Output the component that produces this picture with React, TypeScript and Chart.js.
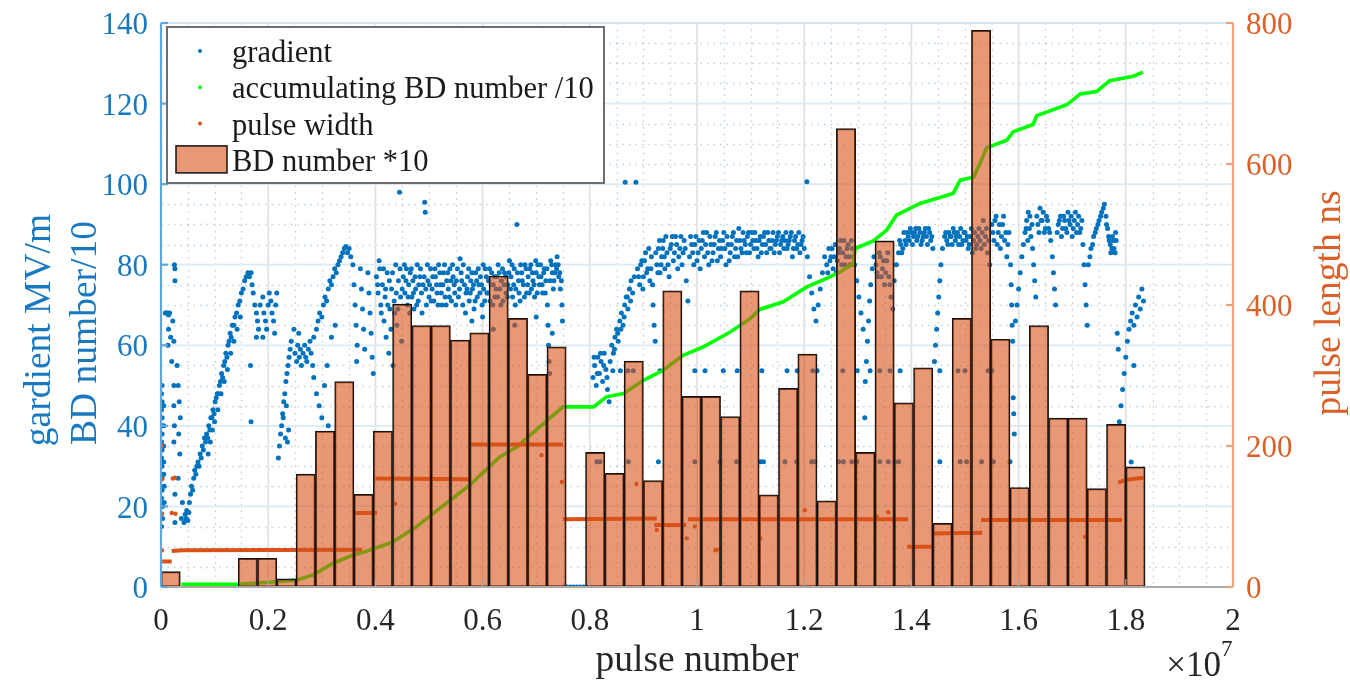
import React, { useEffect, useRef } from 'react';
import { Chart, registerables } from 'chart.js';

Chart.register(...registerables);

const FONT = '"Liberation Serif", "Times New Roman", serif';
const BLUE = '#0072BD';
const ORANGE = '#D95319';
const GREEN = '#00FF00';
const BAR_FILL = 'rgba(217,83,25,0.6)';
const LEFT_TEXT = '#1878c0';
const RIGHT_TEXT = '#db5f28';

// ---- axis ticks ----
const xTickStep = 0.2; // x10^7 pulses
const yTickStep = 20; // MV/m
const y1TickStep = 200; // ns

// ---- histogram: BD number *10 per bin (bin width 0.036e7 pulses) ----
const BIN_WIDTH = 0.036;
const bdNumberX10 = [
  3.8, 0, 0, 0, 7.1, 7.1, 2.0, 28.0, 38.7, 51.0, 23.0, 38.7, 70.2, 64.9, 64.9, 61.3, 63.1,
  77.2, 66.7, 52.8, 59.6, 0, 33.4, 28.2, 56.1, 26.4, 73.5, 47.3, 47.3, 42.3, 73.5, 22.9,
  49.3, 57.8, 21.4, 113.8, 33.4, 85.9, 45.7, 54.4, 15.8, 66.7, 138.2, 61.5, 24.7, 64.9,
  41.9, 41.9, 24.4, 40.4, 29.8,
];

// ---- accumulating BD number /10 ----
const accumBD: [number, number][] = [
  [0.038, 0.7], [0.144, 0.7], [0.216, 1.3], [0.253, 1.7], [0.284, 3.0], [0.321, 5.9],
  [0.358, 7.9], [0.39, 9.2], [0.433, 11.2], [0.477, 15.0], [0.52, 19.5], [0.576, 25.3],
  [0.632, 32.3], [0.664, 34.8], [0.7, 39.0], [0.75, 44.7], [0.807, 44.7], [0.831, 47.2],
  [0.863, 48.0], [0.9, 51.3], [0.937, 53.8], [0.974, 57.5], [1.012, 59.6], [1.062, 63.3],
  [1.099, 66.6], [1.117, 68.9], [1.161, 70.8], [1.205, 74.5], [1.242, 76.6], [1.267, 78.2],
  [1.292, 80.3], [1.295, 84.0], [1.329, 85.9], [1.354, 88.6], [1.372, 92.3], [1.416, 95.2],
  [1.478, 97.7], [1.491, 101.0], [1.516, 101.7], [1.528, 105.1], [1.54, 109.0],
  [1.578, 110.9], [1.59, 113.0], [1.627, 114.8], [1.634, 117.0], [1.69, 119.7],
  [1.715, 122.4], [1.746, 123.0], [1.77, 125.7], [1.814, 126.8], [1.832, 127.8],
];

// ---- pulse width (ns) : flat runs ----
const pulseRuns: [number, number][][] = [
  [[0.002, 36], [0.02, 36]],
  [[0.02, 51], [0.04, 52], [0.375, 53]],
  [[0.362, 105], [0.403, 105]],
  [[0.4, 154], [0.577, 153]],
  [[0.573, 202], [0.75, 202]],
  [[0.75, 96], [0.925, 97]],
  [[0.92, 88], [0.98, 88]],
  [[0.983, 96], [1.394, 96]],
  [[1.392, 57], [1.44, 57]],
  [[1.44, 76], [1.532, 77]],
  [[1.53, 95], [1.793, 95]],
  [[1.786, 148], [1.8, 152], [1.833, 155]],
];
const pulseDots: [number, number][] = [
  [0.002, 201], [0.002, 153], [0.022, 154], [0.026, 155], [0.002, 104], [0.02, 105],
  [0.027, 104], [0.002, 52], [0.437, 118], [0.71, 187], [0.748, 149], [0.887, 146],
  [0.925, 81], [0.981, 69], [0.996, 86], [1.034, 52], [1.037, 53], [1.118, 69],
  [1.201, 109], [1.335, 100], [1.357, 106], [1.724, 71],
];

// ---- gradient (MV/m) ----
const gradStart: [number, number][] = [
  [0.002, 50], [0.002, 46], [0.002, 42], [0.002, 38], [0.002, 34], [0.002, 30], [0.002, 27],
  [0.002, 24], [0.003, 20], [0.003, 17], [0.005, 45], [0.005, 40], [0.005, 35], [0.005, 31],
  [0.005, 28], [0.006, 25], [0.006, 21], [0.008, 68], [0.01, 68], [0.012, 68], [0.014, 67.5],
  [0.016, 68], [0.014, 64], [0.013, 60], [0.018, 62], [0.02, 56], [0.022, 66], [0.024, 61],
  [0.025, 80], [0.026, 79], [0.026, 76], [0.024, 50], [0.024, 45], [0.025, 40], [0.024, 36],
  [0.026, 23], [0.026, 16], [0.03, 55], [0.032, 50], [0.034, 46], [0.036, 42], [0.033, 38],
  [0.035, 33], [0.032, 27], [0.038, 17], [0.04, 21], [0.001, 48], [0.001, 44], [0.001, 40],
  [0.001, 36], [0.001, 32], [0.001, 28], [0.001, 22], [0.001, 15],
];
const gradRamp1: [number, number][] = [
  [0.043, 16], [0.045, 18], [0.047, 17], [0.048, 19], [0.05, 16.5], [0.052, 18.5], [0.053, 21],
  [0.055, 23], [0.057, 25], [0.059, 24], [0.061, 27], [0.063, 29], [0.065, 28], [0.067, 30],
  [0.069, 31], [0.071, 30], [0.073, 33], [0.075, 32], [0.077, 35], [0.079, 34], [0.081, 37],
  [0.083, 36], [0.085, 38], [0.087, 37], [0.089, 40], [0.091, 39], [0.093, 42], [0.095, 42],
  [0.097, 44], [0.099, 43], [0.101, 46], [0.103, 47], [0.105, 48], [0.107, 48], [0.109, 50],
  [0.111, 51], [0.113, 53], [0.115, 52], [0.117, 55], [0.119, 56], [0.121, 58], [0.123, 57],
  [0.125, 60], [0.127, 61], [0.129, 63], [0.131, 62], [0.133, 65], [0.136, 65], [0.138, 67],
  [0.141, 68], [0.144, 70], [0.147, 71], [0.15, 73], [0.153, 74], [0.156, 76], [0.159, 77],
  [0.162, 78], [0.165, 77], [0.168, 78], [0.17, 75], [0.172, 73], [0.088, 33], [0.092, 36],
  [0.096, 39], [0.1, 41], [0.106, 44], [0.112, 48], [0.118, 51], [0.124, 54], [0.13, 58],
  [0.136, 61], [0.142, 64], [0.148, 67],
];
const gradPeak1: [number, number][] = [
  [0.175, 70], [0.178, 68], [0.18, 66], [0.182, 64], [0.178, 62], [0.185, 70], [0.19, 72],
  [0.192, 68], [0.195, 66], [0.197, 64], [0.2, 70], [0.202, 73], [0.205, 71], [0.207, 68],
  [0.21, 66], [0.212, 63], [0.214, 70], [0.216, 73], [0.19, 62], [0.167, 55], [0.168, 41],
];
const gradRamp2: [number, number][] = [
  [0.219, 32], [0.221, 35], [0.223, 38], [0.225, 40], [0.227, 43], [0.229, 46], [0.231, 48],
  [0.233, 51], [0.235, 53], [0.237, 55], [0.239, 57], [0.241, 59], [0.243, 61], [0.232, 37],
  [0.236, 36], [0.238, 39], [0.228, 42], [0.234, 45],
];
const gradBlob: [number, number][] = [
  [0.25, 58], [0.253, 56], [0.255, 60], [0.258, 57], [0.26, 59], [0.262, 55], [0.265, 58],
  [0.268, 60], [0.27, 57], [0.272, 56], [0.275, 59], [0.278, 61], [0.28, 58], [0.283, 55],
  [0.257, 63], [0.248, 64],
];
const gradRamp3: [number, number][] = [
  [0.285, 62], [0.29, 64], [0.293, 66], [0.296, 68], [0.3, 67], [0.303, 70], [0.306, 72],
  [0.309, 71], [0.312, 74], [0.315, 76], [0.318, 75], [0.321, 77], [0.324, 79], [0.327, 78],
  [0.33, 80], [0.333, 81], [0.336, 82], [0.339, 83], [0.342, 84], [0.345, 84.5], [0.348, 83],
  [0.351, 84], [0.354, 82], [0.285, 52], [0.29, 48], [0.295, 45], [0.3, 42], [0.305, 50],
  [0.31, 55], [0.312, 40], [0.318, 62], [0.325, 65],
];
const gradCols: [number, number][] = [
  [0.358, 80], [0.36, 75], [0.362, 70], [0.364, 65], [0.366, 60], [0.365, 56], [0.372, 79],
  [0.374, 74], [0.376, 69], [0.378, 64], [0.38, 59], [0.386, 78], [0.388, 73], [0.39, 68],
  [0.392, 63], [0.394, 57], [0.396, 53],
];
const gradBand1: [number, number][] = [
  [0.402, 77], [0.405, 73], [0.408, 79], [0.41, 70], [0.413, 75], [0.416, 66], [0.418, 72],
  [0.42, 62], [0.422, 78], [0.425, 58], [0.427, 69], [0.43, 74], [0.433, 55], [0.435, 71],
  [0.438, 80], [0.44, 65], [0.443, 76], [0.445, 98], [0.447, 72], [0.449, 61], [0.452, 77],
  [0.455, 73], [0.458, 79], [0.46, 70], [0.462, 75], [0.465, 78], [0.468, 72], [0.47, 76],
  [0.472, 69], [0.475, 74], [0.478, 80], [0.48, 71], [0.483, 77], [0.486, 73], [0.489, 75],
  [0.492, 95.5], [0.493, 93], [0.495, 70], [0.498, 76], [0.5, 72], [0.503, 79], [0.506, 74],
  [0.509, 71], [0.512, 77], [0.515, 73], [0.518, 80], [0.521, 75], [0.524, 70], [0.527, 78],
  [0.53, 72], [0.533, 76], [0.536, 74], [0.539, 79], [0.542, 71], [0.545, 77], [0.548, 73],
];
const gradBand2: [number, number][] = [
  [0.551, 76], [0.555, 72], [0.558, 81.5], [0.56, 78], [0.563, 70], [0.566, 75], [0.569, 73],
  [0.572, 77], [0.575, 71], [0.578, 76], [0.581, 74], [0.584, 69], [0.587, 78], [0.59, 72],
  [0.593, 75], [0.596, 77], [0.599, 70], [0.602, 74], [0.605, 79], [0.608, 73], [0.611, 76],
  [0.614, 71], [0.617, 78], [0.62, 75], [0.623, 72], [0.626, 77], [0.629, 80], [0.632, 74],
  [0.635, 76], [0.638, 71], [0.641, 78], [0.644, 73], [0.647, 75], [0.65, 81], [0.653, 77],
  [0.656, 72], [0.659, 79], [0.662, 74], [0.664, 90], [0.667, 76], [0.67, 71], [0.673, 78],
  [0.676, 75], [0.679, 80], [0.682, 73], [0.685, 77], [0.688, 79], [0.691, 74], [0.694, 76],
  [0.697, 72], [0.7, 78], [0.703, 80], [0.706, 75], [0.709, 77], [0.712, 73], [0.715, 79],
  [0.718, 76], [0.721, 70], [0.722, 65], [0.723, 60], [0.724, 56], [0.725, 53], [0.727, 81],
  [0.73, 78], [0.733, 76], [0.736, 80], [0.739, 82], [0.742, 77], [0.745, 74], [0.748, 70],
  [0.749, 66], [0.58, 66], [0.62, 64], [0.6, 67], [0.66, 65], [0.7, 67], [0.73, 63],
];
const gradFill1: [number, number][] = [
  [0.404, 75], [0.407, 81], [0.411, 68], [0.415, 79], [0.419, 74], [0.423, 70], [0.426, 76],
  [0.429, 64], [0.432, 78], [0.436, 68], [0.439, 73], [0.442, 69], [0.446, 79], [0.45, 74],
  [0.454, 80], [0.457, 76], [0.461, 72], [0.464, 68], [0.467, 79], [0.471, 73], [0.474, 77],
  [0.477, 70], [0.481, 75], [0.484, 79], [0.487, 68], [0.491, 77], [0.494, 74], [0.497, 80],
  [0.501, 75], [0.504, 71], [0.507, 77], [0.511, 79], [0.514, 75], [0.517, 70], [0.52, 78],
  [0.523, 73], [0.526, 75], [0.529, 80], [0.532, 70], [0.535, 78], [0.538, 72], [0.541, 76],
  [0.544, 80], [0.547, 75], [0.55, 70], [0.553, 79], [0.557, 74], [0.561, 76], [0.564, 80],
  [0.568, 68], [0.571, 74], [0.574, 79], [0.577, 73], [0.58, 78], [0.583, 75], [0.586, 71],
  [0.589, 76], [0.592, 79], [0.595, 73], [0.598, 75], [0.601, 80], [0.604, 71], [0.607, 77],
  [0.61, 73], [0.613, 79], [0.616, 75], [0.619, 70], [0.622, 77], [0.625, 74], [0.628, 72],
  [0.631, 78], [0.634, 70], [0.637, 79], [0.64, 75], [0.643, 77], [0.646, 72], [0.649, 78],
  [0.652, 74], [0.655, 80], [0.658, 75], [0.661, 70], [0.665, 78], [0.668, 73], [0.671, 80],
  [0.674, 76], [0.678, 72], [0.681, 79], [0.684, 75], [0.687, 73], [0.69, 80], [0.693, 78],
  [0.696, 75], [0.699, 81], [0.702, 73], [0.705, 77], [0.708, 80], [0.711, 75], [0.714, 78],
  [0.717, 73], [0.72, 79], [0.726, 76], [0.729, 80], [0.732, 74], [0.735, 78], [0.738, 79],
  [0.741, 80], [0.744, 78], [0.747, 76],
];
const gradZero: [number, number][] = [
  [0.752, 0], [0.758, 0], [0.764, 0], [0.77, 0], [0.776, 0], [0.782, 0], [0.788, 0],
  [0.794, 0], [0.8, 0],
];
const gradRamp4: [number, number][] = [
  [0.806, 52], [0.809, 55], [0.812, 50], [0.815, 57], [0.818, 53], [0.821, 56], [0.824, 51],
  [0.827, 58], [0.83, 54], [0.833, 49], [0.836, 46], [0.838, 56], [0.841, 60], [0.844, 58],
  [0.847, 62], [0.85, 64], [0.853, 61], [0.856, 66], [0.859, 68], [0.862, 65], [0.865, 70],
  [0.868, 72], [0.871, 69], [0.874, 74], [0.877, 76], [0.88, 73], [0.883, 77], [0.886, 100.5],
  [0.866, 100.5], [0.808, 57], [0.814, 53], [0.82, 58], [0.826, 55], [0.832, 52],
  [0.846, 59], [0.852, 63], [0.858, 64], [0.864, 67], [0.87, 72], [0.876, 71],
];
const gradBand3: [number, number][] = [
  [0.889, 79], [0.893, 75], [0.897, 81], [0.9, 77], [0.904, 83], [0.908, 79], [0.912, 76],
  [0.915, 82], [0.918, 70], [0.92, 65], [0.922, 61], [0.925, 80], [0.928, 84], [0.931, 78],
  [0.934, 82], [0.937, 86], [0.94, 79], [0.944, 83], [0.948, 77], [0.952, 85], [0.956, 81],
  [0.96, 87], [0.964, 79], [0.968, 84], [0.972, 80], [0.976, 86], [0.98, 76], [0.983, 71],
  [0.986, 82], [0.99, 85], [0.994, 80], [0.998, 87], [1.002, 83], [1.006, 79], [1.01, 86],
  [1.014, 82], [1.018, 88], [1.022, 80], [1.026, 85], [1.03, 83], [1.034, 87], [1.038, 81],
  [1.042, 86], [1.046, 84], [1.05, 88], [1.054, 80], [1.058, 85], [1.062, 83], [1.066, 87],
  [1.07, 82], [1.074, 86], [1.078, 89], [1.082, 84], [1.086, 88], [1.09, 85], [1.094, 87],
  [1.098, 83],
];
const gradBand4: [number, number][] = [
  [1.102, 88], [1.106, 84], [1.11, 86], [1.114, 82], [1.118, 87], [1.122, 85], [1.126, 88],
  [1.13, 83], [1.134, 86], [1.138, 84], [1.142, 88], [1.146, 85], [1.15, 87], [1.154, 83],
  [1.158, 86], [1.162, 84], [1.166, 88], [1.17, 85], [1.174, 87], [1.178, 82], [1.182, 86],
  [1.186, 84], [1.19, 88], [1.194, 85], [1.198, 87], [1.205, 100.6], [1.206, 82], [1.21, 77],
  [1.214, 73], [1.218, 69], [1.222, 66], [1.226, 70], [1.23, 74], [1.234, 78], [1.238, 82],
  [1.242, 80], [1.246, 84], [1.25, 82], [1.254, 79], [1.258, 85], [1.262, 81], [1.266, 84],
  [1.27, 80], [1.274, 86], [1.278, 82], [1.282, 85], [1.286, 80], [1.29, 84], [1.294, 80],
  [1.298, 76], [1.302, 72], [1.306, 68], [1.31, 64],
];
const gradBand5: [number, number][] = [
  [1.313, 42], [1.314, 51], [1.316, 56], [1.318, 61], [1.32, 66], [1.322, 71], [1.324, 75],
  [1.327, 79], [1.33, 82], [1.334, 80], [1.338, 77], [1.342, 82], [1.346, 79], [1.35, 75],
  [1.354, 81], [1.358, 77], [1.362, 72], [1.365, 69], [1.368, 76], [1.372, 80], [1.376, 83],
  [1.38, 85], [1.384, 84], [1.388, 86], [1.392, 88], [1.396, 86], [1.4, 88], [1.404, 87],
  [1.408, 89], [1.412, 87], [1.416, 88], [1.42, 86], [1.424, 88], [1.428, 87], [1.432, 89],
  [1.436, 86], [1.44, 84], [1.443, 56], [1.445, 60], [1.447, 64], [1.449, 68], [1.451, 72],
  [1.453, 76], [1.455, 80], [1.458, 84], [1.462, 87], [1.466, 86], [1.47, 88], [1.474, 87],
  [1.478, 89], [1.482, 86], [1.486, 88], [1.49, 87], [1.494, 85], [1.498, 88], [1.502, 86],
  [1.506, 84], [1.51, 87], [1.514, 83], [1.518, 88], [1.522, 85], [1.526, 89], [1.53, 84],
  [1.534, 91], [1.538, 87], [1.542, 83], [1.546, 80],
];
const gradFill2: [number, number][] = [
  [0.891, 77], [0.895, 80], [0.899, 74], [0.902, 81], [0.906, 78], [0.91, 84], [0.914, 79],
  [0.917, 75], [0.923, 83], [0.927, 78], [0.93, 86], [0.933, 80], [0.936, 84], [0.939, 82],
  [0.942, 87], [0.946, 80], [0.95, 84], [0.954, 87], [0.958, 83], [0.962, 85], [0.966, 82],
  [0.97, 87], [0.974, 83], [0.978, 84], [0.988, 87], [0.992, 83], [0.996, 85], [1.0, 81],
  [1.004, 86], [1.008, 84], [1.012, 88], [1.016, 85], [1.02, 83], [1.024, 87], [1.028, 81],
  [1.032, 85], [1.036, 88], [1.04, 84], [1.044, 82], [1.048, 86], [1.052, 84], [1.056, 87],
  [1.06, 81], [1.064, 85], [1.068, 88], [1.072, 84], [1.076, 82], [1.08, 86], [1.084, 83],
  [1.088, 86], [1.092, 83], [1.096, 88], [1.1, 85], [1.104, 86], [1.108, 88], [1.112, 84],
  [1.116, 86], [1.12, 83], [1.124, 87], [1.128, 85], [1.132, 88], [1.136, 84], [1.14, 86],
  [1.144, 83], [1.148, 86], [1.152, 88], [1.156, 85], [1.16, 87], [1.164, 86], [1.168, 84],
  [1.172, 86], [1.176, 88], [1.18, 84], [1.184, 87], [1.188, 85], [1.192, 83], [1.196, 86],
  [1.2, 84], [1.244, 78], [1.248, 81], [1.252, 84], [1.256, 82], [1.26, 78], [1.264, 83],
  [1.268, 86], [1.272, 83], [1.276, 80], [1.28, 84], [1.284, 82], [1.288, 86], [1.292, 82],
  [1.336, 78], [1.34, 83], [1.344, 77], [1.348, 81], [1.352, 78], [1.356, 83], [1.36, 75],
  [1.378, 86], [1.382, 83], [1.386, 88], [1.39, 85], [1.394, 87], [1.398, 89], [1.402, 85],
  [1.406, 88], [1.41, 86], [1.414, 89], [1.418, 85], [1.422, 87], [1.426, 89], [1.43, 85],
  [1.434, 88], [1.438, 87], [1.464, 88], [1.468, 85], [1.472, 87], [1.476, 85], [1.48, 88],
  [1.484, 87], [1.488, 85], [1.492, 89], [1.496, 86], [1.5, 88], [1.504, 87], [1.508, 85],
  [1.512, 89], [1.516, 86], [1.52, 84], [1.524, 87], [1.528, 86], [1.532, 88], [1.536, 85],
  [1.54, 89], [1.544, 86],
];
const gradBand6: [number, number][] = [
  [1.55, 90], [1.554, 86], [1.558, 92], [1.562, 88], [1.566, 84], [1.57, 90], [1.574, 86],
  [1.578, 82], [1.582, 88], [1.585, 80], [1.586, 75], [1.587, 70], [1.588, 65], [1.589, 61],
  [1.59, 47], [1.591, 43], [1.592, 38], [1.594, 66], [1.597, 70], [1.6, 74], [1.603, 78],
  [1.606, 82], [1.609, 85], [1.612, 88], [1.615, 91], [1.618, 93], [1.62, 89], [1.623, 87],
  [1.626, 84], [1.628, 80], [1.63, 76], [1.632, 72], [1.636, 90], [1.64, 94], [1.644, 91],
  [1.648, 88], [1.652, 92], [1.656, 89], [1.66, 86], [1.663, 82], [1.665, 78], [1.667, 74],
  [1.669, 70], [1.672, 88], [1.676, 91], [1.68, 87], [1.684, 92], [1.688, 89], [1.692, 93],
  [1.696, 90], [1.7, 87], [1.704, 91], [1.708, 88], [1.712, 92], [1.716, 89], [1.72, 85],
  [1.722, 80], [1.724, 75], [1.726, 70], [1.728, 65], [1.73, 80], [1.735, 84], [1.74, 87],
  [1.745, 89], [1.75, 91], [1.755, 93], [1.76, 95], [1.763, 92], [1.766, 89], [1.769, 86],
  [1.772, 83], [1.775, 87], [1.778, 84], [1.781, 88], [1.784, 63], [1.786, 59], [1.788, 41],
  [1.791, 45], [1.794, 49], [1.797, 53], [1.8, 57], [1.803, 61], [1.806, 64], [1.809, 66],
  [1.812, 68], [1.815, 65], [1.818, 70], [1.821, 67], [1.824, 72], [1.827, 69], [1.83, 74],
  [1.833, 71], [1.81, 31], [1.815, 55],
];
const gradFill3: [number, number][] = [
  [1.552, 88], [1.556, 91], [1.56, 85], [1.564, 90], [1.568, 87], [1.572, 92], [1.576, 88],
  [1.58, 85], [1.614, 89], [1.617, 86], [1.621, 92], [1.625, 90], [1.634, 92], [1.638, 88],
  [1.642, 91], [1.646, 93], [1.65, 89], [1.654, 91], [1.658, 88], [1.674, 90], [1.678, 92],
  [1.682, 89], [1.686, 91], [1.69, 88], [1.694, 91], [1.698, 92], [1.702, 89], [1.706, 93],
  [1.71, 90], [1.714, 88], [1.718, 91], [1.733, 82], [1.738, 85], [1.743, 88], [1.748, 90],
  [1.753, 92], [1.758, 94], [1.764, 90], [1.768, 87], [1.771, 85], [1.774, 84], [1.777, 86],
  [1.78, 83], [1.782, 86],
];
const gradRow54: [number, number][] = [
  [0.843, 53.7], [0.857, 53.7], [0.871, 53.7], [0.881, 53.7], [0.931, 53.7], [0.996, 53.7],
  [1.015, 53.7], [1.049, 53.7], [1.075, 53.7], [1.121, 53.7], [1.168, 53.7], [1.187, 53.7],
  [1.216, 53.7], [1.224, 53.7], [1.272, 53.7], [1.299, 53.7], [1.323, 53.7], [1.341, 53.7],
  [1.36, 53.7], [1.379, 53.7], [1.453, 53.7], [1.487, 53.7], [1.5, 53.7], [1.543, 53.7],
  [1.55, 53.7],
];
const gradRow31: [number, number][] = [
  [0.813, 31.1], [0.819, 31.1], [0.872, 31.1], [0.928, 31.1], [0.996, 31.1], [1.043, 31.1],
  [1.074, 31.1], [1.118, 31.1], [1.124, 31.1], [1.164, 31.1], [1.186, 31.1], [1.214, 31.1],
  [1.22, 31.1], [1.264, 31.1], [1.273, 31.1], [1.289, 31.1], [1.298, 31.1], [1.341, 31.1],
  [1.357, 31.1], [1.369, 31.1], [1.376, 31.1], [1.453, 31.1], [1.491, 31.1], [1.503, 31.1],
  [1.531, 31.1], [1.553, 31.1], [1.584, 31.1],
];

const gradientSets = [
  gradStart, gradRamp1, gradPeak1, gradRamp2, gradBlob, gradRamp3, gradCols, gradBand1,
  gradBand2, gradFill1, gradZero, gradRamp4, gradBand3, gradBand4, gradBand5, gradFill2,
  gradBand6, gradFill3, gradRow54, gradRow31,
];

const legendItems = ['gradient', 'accumulating BD number /10', 'pulse width', 'BD number *10'];

const toXY = (arr: [number, number][]) => arr.map(([x, y]) => ({ x, y }));

const zeroPad = (s: any) => {
  s.paddingTop = 0;
  s.paddingBottom = 0;
  s.paddingLeft = 0;
  s.paddingRight = 0;
};

const decor = {
  id: 'decor',
  beforeDatasetsDraw(chart: any) {
    const { ctx, chartArea: a, scales } = chart;
    const xs = scales.x;
    const ys = scales.y;
    ctx.save();
    ctx.lineWidth = 1.3;
    ctx.setLineDash([1.5, 5]);
    ctx.strokeStyle = 'rgba(150,150,150,0.5)';
    for (let k = 0; k <= 40; k++) {
      if (k % 4 === 0) continue;
      const px = Math.round(xs.getPixelForValue(k * (xTickStep / 4))) + 0.5;
      ctx.beginPath();
      ctx.moveTo(px, a.top);
      ctx.lineTo(px, a.bottom);
      ctx.stroke();
    }
    ctx.strokeStyle = 'rgba(110,170,215,0.5)';
    for (let k = 0; k <= 28; k++) {
      if (k % 4 === 0) continue;
      const py = Math.round(ys.getPixelForValue(k * (yTickStep / 4))) + 0.5;
      ctx.beginPath();
      ctx.moveTo(a.left, py);
      ctx.lineTo(a.right, py);
      ctx.stroke();
    }
    ctx.setLineDash([]);
    ctx.lineWidth = 1.8;
    ctx.strokeStyle = '#e2e2e2';
    xs.ticks.forEach((t: any) => {
      const px = xs.getPixelForValue(t.value);
      ctx.beginPath();
      ctx.moveTo(px, a.top);
      ctx.lineTo(px, a.bottom);
      ctx.stroke();
    });
    ctx.strokeStyle = '#dceaf5';
    ys.ticks.forEach((t: any) => {
      const py = ys.getPixelForValue(t.value);
      ctx.beginPath();
      ctx.moveTo(a.left, py);
      ctx.lineTo(a.right, py);
      ctx.stroke();
    });
    ctx.restore();
  },
  afterDatasetsDraw(chart: any) {
    const { ctx, chartArea: a, scales } = chart;
    const xs = scales.x;
    const ys = scales.y;
    const y1 = scales.y1;
    ctx.save();
    ctx.lineWidth = 1.5;
    ctx.strokeStyle = '#d6e3ee';
    ctx.beginPath();
    ctx.moveTo(a.left, a.top);
    ctx.lineTo(a.right, a.top);
    ctx.stroke();
    ctx.strokeStyle = '#a9a9a9';
    ctx.lineWidth = 1.8;
    ctx.beginPath();
    ctx.moveTo(a.left, a.bottom);
    ctx.lineTo(a.right, a.bottom);
    ctx.stroke();
    ctx.lineWidth = 1.2;
    xs.ticks.forEach((t: any) => {
      const px = xs.getPixelForValue(t.value);
      ctx.beginPath();
      ctx.moveTo(px, a.bottom);
      ctx.lineTo(px, a.bottom - 8);
      ctx.stroke();
    });
    ctx.strokeStyle = '#5fa7db';
    ctx.lineWidth = 2.2;
    ctx.beginPath();
    ctx.moveTo(a.left, a.top);
    ctx.lineTo(a.left, a.bottom);
    ctx.stroke();
    ys.ticks.forEach((t: any) => {
      const py = ys.getPixelForValue(t.value);
      ctx.beginPath();
      ctx.moveTo(a.left, py);
      ctx.lineTo(a.left + 7, py);
      ctx.stroke();
    });
    ctx.strokeStyle = '#eca27f';
    ctx.beginPath();
    ctx.moveTo(a.right, a.top);
    ctx.lineTo(a.right, a.bottom);
    ctx.stroke();
    y1.ticks.forEach((t: any) => {
      const py = y1.getPixelForValue(t.value);
      ctx.beginPath();
      ctx.moveTo(a.right, py);
      ctx.lineTo(a.right - 7, py);
      ctx.stroke();
    });

    // legend box
    const lx = a.left + 6;
    const ly = a.top + 4;
    const lw = 437;
    const lh = 156;
    ctx.fillStyle = '#ffffff';
    ctx.fillRect(lx, ly, lw, lh);
    ctx.strokeStyle = '#6e6e6e';
    ctx.lineWidth = 2;
    ctx.strokeRect(lx, ly, lw, lh);
    ctx.font = `30.5px ${FONT}`;
    ctx.textBaseline = 'alphabetic';
    ctx.textAlign = 'left';
    const markerColors = [BLUE, GREEN, ORANGE];
    legendItems.forEach((label, i) => {
      const base = ly + 35 + i * 36.3;
      if (i < 3) {
        ctx.fillStyle = markerColors[i];
        ctx.beginPath();
        ctx.arc(lx + 33, base - 11, 2, 0, Math.PI * 2);
        ctx.fill();
      } else {
        ctx.fillStyle = BAR_FILL;
        ctx.fillRect(lx + 9, base - 25, 51, 27);
        ctx.strokeStyle = '#111';
        ctx.lineWidth = 1.5;
        ctx.strokeRect(lx + 9, base - 25, 51, 27);
      }
      ctx.fillStyle = '#1a1a1a';
      ctx.fillText(label, lx + 65, base);
    });
    ctx.restore();
  },
  afterDraw(chart: any) {
    const { ctx, chartArea: a } = chart;
    ctx.save();
    ctx.font = `37.5px ${FONT}`;
    ctx.textAlign = 'center';
    ctx.textBaseline = 'middle';
    ctx.fillStyle = '#262626';
    ctx.fillText('pulse number', (a.left + a.right) / 2, 661);
    ctx.font = `35px ${FONT}`;
    ctx.textAlign = 'right';
    ctx.textBaseline = 'alphabetic';
    ctx.fillText('\u00d710', a.right - 12, 676);
    ctx.font = `23px ${FONT}`;
    ctx.textAlign = 'left';
    ctx.fillText('7', a.right - 12, 656);
    ctx.font = `37.5px ${FONT}`;
    ctx.textAlign = 'center';
    ctx.textBaseline = 'middle';
    ctx.fillStyle = LEFT_TEXT;
    ctx.save();
    ctx.translate(40, 330);
    ctx.rotate(-Math.PI / 2);
    ctx.fillText('gardient MV/m', 0, 0);
    ctx.restore();
    ctx.save();
    ctx.translate(86, 333);
    ctx.rotate(-Math.PI / 2);
    ctx.fillText('BD number/10', 0, 0);
    ctx.restore();
    ctx.fillStyle = RIGHT_TEXT;
    ctx.save();
    ctx.translate(1330, 303);
    ctx.rotate(-Math.PI / 2);
    ctx.fillText('pulse length ns', 0, 0);
    ctx.restore();
    ctx.restore();
  },
};

export default function App() {
  const ref = useRef<HTMLCanvasElement | null>(null);

  useEffect(() => {
    if (!ref.current) return;
    Chart.defaults.font.family = FONT;

    const pulseLineData: any[] = [];
    pulseRuns.forEach((run, i) => {
      if (i > 0) pulseLineData.push({ x: run[0][0], y: null });
      run.forEach(([x, y]) => pulseLineData.push({ x, y }));
    });

    const chart = new Chart(ref.current, {
      type: 'scatter',
      data: {
        datasets: [
          {
            type: 'bar',
            label: 'BD number *10',
            data: bdNumberX10.map((v, i) => ({ x: (i + 0.5) * BIN_WIDTH, y: v })),
            backgroundColor: BAR_FILL,
            borderColor: '#141414',
            borderWidth: 1.3,
            borderSkipped: false,
            barPercentage: 1,
            categoryPercentage: 1,
            grouped: false,
            yAxisID: 'y',
            order: 0,
          } as any,
          {
            label: 'pulse width',
            data: pulseLineData,
            showLine: true,
            spanGaps: false,
            borderColor: ORANGE,
            borderWidth: 4,
            pointRadius: 0,
            yAxisID: 'y1',
            order: 1,
          },
          {
            label: 'pulse width dots',
            data: toXY(pulseDots),
            backgroundColor: ORANGE,
            pointRadius: 2.2,
            borderWidth: 0,
            yAxisID: 'y1',
            order: 1,
          },
          {
            label: 'accumulating BD number /10',
            data: toXY(accumBD),
            showLine: true,
            borderColor: GREEN,
            borderWidth: 3.6,
            pointRadius: 0,
            yAxisID: 'y',
            order: 2,
          },
          {
            label: 'gradient',
            data: gradientSets.flatMap(toXY),
            backgroundColor: BLUE,
            pointRadius: 2.5,
            borderWidth: 0,
            yAxisID: 'y',
            order: 3,
          },
        ],
      },
      options: {
        responsive: false,
        animation: false,
        events: [],
        layout: { padding: { top: 23, left: 0, right: 0, bottom: 0 } },
        plugins: { legend: { display: false }, tooltip: { enabled: false } },
        scales: {
          x: {
            type: 'linear',
            position: 'bottom',
            min: 0,
            max: 2,
            offset: false,
            grid: { display: false, drawTicks: false },
            border: { display: false },
            ticks: {
              stepSize: xTickStep,
              autoSkip: false,
              maxRotation: 0,
              padding: 16,
              color: '#262626',
              font: { family: FONT, size: 31 },
              callback: (v: any) => String(Number(Number(v).toFixed(1))),
            },
            afterFit: (s: any) => {
              s.height = 96;
              zeroPad(s);
            },
          },
          y: {
            type: 'linear',
            position: 'left',
            min: 0,
            max: 140,
            grid: { display: false, drawTicks: false },
            border: { display: false },
            ticks: {
              stepSize: yTickStep,
              padding: 13,
              labelOffset: 3,
              color: LEFT_TEXT,
              font: { family: FONT, size: 31 },
            },
            afterFit: (s: any) => {
              s.width = 161;
              zeroPad(s);
            },
          },
          y1: {
            type: 'linear',
            position: 'right',
            min: 0,
            max: 800,
            grid: { display: false, drawTicks: false },
            border: { display: false },
            ticks: {
              stepSize: y1TickStep,
              padding: 13,
              labelOffset: 3,
              color: RIGHT_TEXT,
              font: { family: FONT, size: 31 },
            },
            afterFit: (s: any) => {
              s.width = 117;
              zeroPad(s);
            },
          },
        },
      } as any,
      plugins: [decor],
    });
    return () => chart.destroy();
  }, []);

  return (
    <div style={{ position: 'fixed', left: 0, top: 0, width: 1350, height: 683, background: '#fff' }}>
      <canvas ref={ref} width={1350} height={683} style={{ width: 1350, height: 683 }} />
    </div>
  );
}
